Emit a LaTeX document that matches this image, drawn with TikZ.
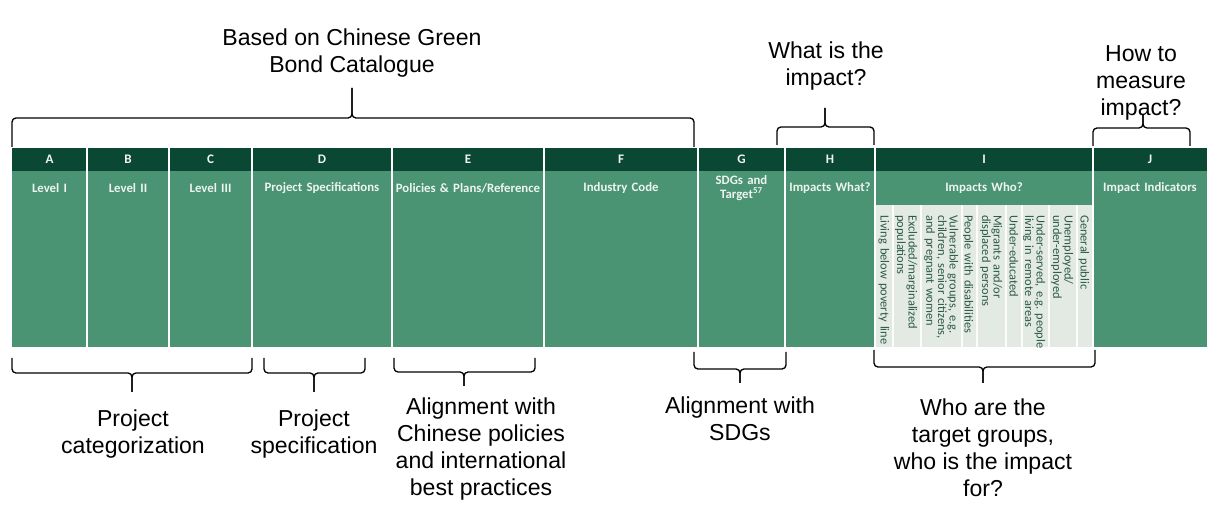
\documentclass[tikz,border=0pt]{standalone}
\usepackage{fontspec}
\setmainfont{Liberation Sans}
\newfontfamily\tabfont{Carlito}
\usetikzlibrary{positioning}

\definecolor{headgreen}{HTML}{0A4834}
\definecolor{bodygreen}{HTML}{4A9473}
\definecolor{subgrey}{HTML}{E2EAE3}
\definecolor{subtext}{HTML}{2C5A46}
\definecolor{labwhite}{HTML}{EEF4EF}

% curly bracket: x left, x right, y of the ends, y of the bar, x tip, y tip
\newcommand{\groupbrace}[6]{%
  \draw[brc] (#1,#3) -- (#1,#4) -- (#5,#4) -- (#5,#6);
  \draw[brc] (#2,#3) -- (#2,#4) -- (#5,#4) -- (#5,#6);
}

\begin{document}
\begin{tikzpicture}[
x=0.75pt, y=-0.75pt,
hd/.style={font=\tabfont\bfseries\fontsize{9.8}{10}\selectfont, text=labwhite, inner sep=0pt},
lab/.style={font=\tabfont\bfseries\fontsize{9.6}{11}\selectfont, text=labwhite, inner sep=0pt, align=center},
grp/.style={font=\tabfont\fontsize{9.3}{8.7}\selectfont, text=subtext, inner sep=0pt,
  rotate=-90, anchor=north west, align=left, text width=125pt},
sep/.style={white, line width=1.5pt},
subsep/.style={white!85!subgrey, line width=1.2pt},
note/.style={font=\fontsize{17.3}{20.3}\selectfont, align=center, inner sep=0pt},
brc/.style={line width=1pt, rounded corners=3pt}]
\useasboundingbox (0,0) rectangle (1207,505);

    % Columns A to J
    \foreach \n/\l/\r/\lab in {A/12/87/{Level I}, B/87/169/{Level II}, C/169/252/{Level III},
        D/252/392/{Project Specifications}, E/392/544/{Policies \& Plans/Reference},
        F/544/698/{Industry Code}, G/698/785/{SDGs and\\Target\textsuperscript{57}},
        H/785/875/{Impacts What?}, I/875/1093/{Impacts Who?}, J/1093/1207/{Impact Indicators}}{
      \fill[bodygreen] (\l,171) rectangle (\r,347);
      \fill[headgreen] (\l,148) rectangle (\r,171);
      \node[hd] (h\n) at ({(\l+\r)/2},159.5) {\n};
      \node[lab, text width={(\r-\l)*0.75pt}] (t\n) at ({(\l+\r)/2},188) {\lab};
    }
    \foreach \x in {87,169,252,392,544,698,785,875,1093}
      \draw[sep] (\x,148) -- (\x,347);

    % Target groups under column I
    \foreach \l/\r/\who [count=\k] in {875/893/{Living below poverty line},
        893/921/{Excluded/marginalized\\populations},
        921/962/{Vulnerable groups, e.g.\\children, senior citizens,\\and pregnant women},
        962/977/{People with disabilities},
        977/1006/{Migrants and/or\\displaced persons},
        1006/1022/{Under-educated},
        1022/1049/{Under-served, e.g.\ people\\living in remote areas},
        1049/1077/{Unemployed/\\under-employed},
        1077/1093/{General public}}{
      \fill[subgrey] (\l+1,205) rectangle (\r-1,347);
      \node[grp] (who\k) at (\r-3.5,215) {\who};
    }
    \foreach \x in {893,921,962,977,1006,1022,1049,1077}
      \draw[subsep] (\x,205) -- (\x,347);

    % Braces above
    \groupbrace{12}{694}{147}{118}{352}{88}
    \groupbrace{777}{874}{145}{127}{825}{108}
    \groupbrace{1093}{1190}{146}{128}{1143}{115}
    \node[note] (catalogue) at (352,53.5) {Based on Chinese Green\\Bond Catalogue};
    \node[note] (what) at (826,66) {What is the\\impact?};
    \node[note] (measure) at (1141,83) {How to\\measure\\impact?};

    % Braces below
    \groupbrace{12}{252}{358}{373}{132}{392}
    \groupbrace{264}{365}{358}{373}{314}{392}
    \groupbrace{394}{535}{358}{372}{464}{386}
    \groupbrace{694}{786}{352}{369}{740}{383}
    \groupbrace{874}{1095}{350}{367}{983}{383}
    \node[note] (categ) at (133,434) {Project\\categorization};
    \node[note] (spec) at (314,434) {Project\\specification};
    \node[note] (policies) at (481,449) {Alignment with\\Chinese policies\\and international\\best practices};
    \node[note] (sdgs) at (740,419) {Alignment with\\SDGs};
    \node[note] (groups) at (983,447.5) {Who are the\\target groups,\\who is the impact\\for?};

\end{tikzpicture}
\end{document}
